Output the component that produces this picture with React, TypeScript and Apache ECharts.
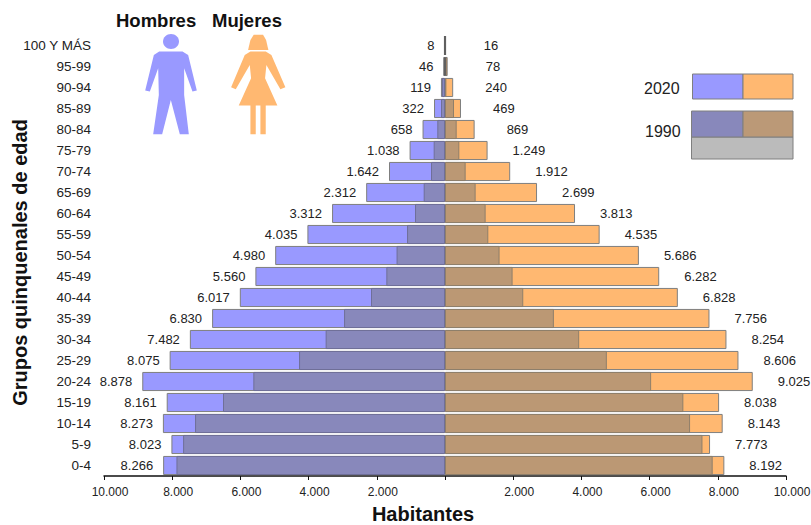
import React, { useEffect, useRef } from "react";
import * as echarts from "echarts";

const categories = ["0-4","5-9","10-14","15-19","20-24","25-29","30-34","35-39","40-44","45-49","50-54","55-59","60-64","65-69","70-74","75-79","80-84","85-89","90-94","95-99","100 Y MÁS"];
const hombres2020 = [8266,8023,8273,8161,8878,8075,7482,6830,6017,5560,4980,4035,3312,2312,1642,1038,658,322,119,46,8];
const mujeres2020 = [8192,7773,8143,8038,9025,8606,8254,7756,6828,6282,5686,4535,3813,2699,1912,1249,869,469,240,78,16];
const hombres1990 = [7875,7680,7330,6510,5620,4280,3500,2960,2170,1720,1420,1113,879,625,410,332,225,117,90,22,4];
const mujeres1990 = [7850,7550,7187,6990,6045,4746,3935,3193,2295,1982,1600,1270,1191,898,605,420,342,264,40,30,6];

const MALE = "#9999FF";
const FEMALE = "#FFB871";
const OVERLAY = "rgba(120,120,120,0.5)";
const BORDER = "#7F7F7F";
const FONT = "'Liberation Sans', Arial, sans-serif";

const fmt = (v: number) => String(Math.abs(v)).replace(/\B(?=(\d{3})+$)/g, ".");

function App() {
  const ref = useRef<HTMLDivElement>(null);
  useEffect(() => {
    const chart = echarts.init(ref.current!, null, { renderer: "svg" });
    const bar = { type: "bar", barGap: "-100%", barCategoryGap: "9%" };
    const rightGap = (v: number) => (v < 100 ? 38 : v < 1000 ? 32 : 25);
    const tiny = (v: number, limit: number) =>
      Math.abs(v) < limit ? { itemStyle: { color: "#606060", borderColor: "#606060", borderWidth: 2 } } : {};
    const scale = 1 / 3;
    chart.setOption({
      animation: false,
      grid: { left: 104, right: 25, top: 35, bottom: 49, outerBoundsMode: "none" },
      xAxis: {
        type: "value",
        min: -10000,
        max: 10000,
        interval: 2000,
        name: "Habitantes",
        nameLocation: "middle",
        nameGap: 28,
        nameTextStyle: { fontFamily: FONT, fontWeight: "bold", fontSize: 20, color: "#111", padding: [0, 44, 0, 0] },
        splitLine: { show: false },
        axisLine: { show: true, onZero: false, lineStyle: { color: "#111", width: 1.5 } },
        axisTick: { show: true, length: 4, lineStyle: { color: "#111" } },
        axisLabel: {
          fontFamily: FONT,
          fontSize: 12,
          color: "#222",
          margin: 10,
          padding: [0, 0, 0, 12],
          formatter: (v: number) => (v === 0 ? "" : fmt(v)),
        },
      },
      yAxis: {
        type: "category",
        data: categories,
        name: "Grupos quinquenales de edad",
        nameLocation: "middle",
        nameGap: 74,
        nameMoveOverlap: false,
        nameTextStyle: { fontFamily: FONT, fontWeight: "bold", fontSize: 20, color: "#111", padding: [0, 14, 0, 0] },
        axisLine: { show: false },
        axisTick: { show: false },
        axisLabel: { fontFamily: FONT, fontSize: 13.5, color: "#222", margin: 13, interval: 0 },
      },
      series: [
        {
          ...bar,
          name: "Hombres 2020",
          data: hombres2020.map((v) => ({ value: -v })),
          itemStyle: { color: MALE, borderColor: BORDER, borderWidth: 1 },
          label: { show: true, position: "left", distance: 10, fontFamily: FONT, fontSize: 13, color: "#222", formatter: (p: any) => fmt(p.value) },
        },
        {
          ...bar,
          name: "Mujeres 2020",
          data: mujeres2020.map((v) => ({ value: v, label: { distance: rightGap(v) } })),
          itemStyle: { color: FEMALE, borderColor: BORDER, borderWidth: 1 },
          label: { show: true, position: "right", fontFamily: FONT, fontSize: 13, color: "#222", formatter: (p: any) => fmt(p.value) },
        },
        {
          ...bar,
          name: "Hombres 1990",
          data: hombres1990.map((v) => ({ value: -v, ...tiny(v, 35) })),
          itemStyle: { color: OVERLAY, borderColor: "#6F6F9A", borderWidth: 1 },
        },
        {
          ...bar,
          name: "Mujeres 1990",
          data: mujeres1990.map((v) => ({ value: v, ...tiny(v, 35) })),
          itemStyle: { color: OVERLAY, borderColor: "#8F7F6A", borderWidth: 1 },
        },
      ],
      graphic: [
        { type: "text", left: 116, top: 11, style: { text: "Hombres", fontFamily: FONT, fontWeight: "bold", fontSize: 18.5, fill: "#111" } },
        { type: "text", left: 212, top: 11, style: { text: "Mujeres", fontFamily: FONT, fontWeight: "bold", fontSize: 18.5, fill: "#111" } },
        { type: "ellipse", shape: { cx: 171, cy: 41.5, rx: 8, ry: 7.5 }, style: { fill: MALE } },
        {
          type: "polygon",
          scaleX: scale,
          scaleY: scale,
          shape: { points: [[478,155],[548,155],[565,165],[591,272],[578,275],[553,205],[553,285],[567,403],[540,403],[513,300],[487,403],[460,403],[477,285],[475,205],[450,275],[436,272],[462,165]] },
          style: { fill: MALE },
        },
        {
          type: "polygon",
          scaleX: scale,
          scaleY: scale,
          shape: { points: [[762,104],[790,104],[799,120],[806,150],[745,150],[752,120]] },
          style: { fill: FEMALE },
        },
        {
          type: "polygon",
          scaleX: scale,
          scaleY: scale,
          shape: { points: [[752,155],[798,155],[815,165],[857,262],[842,268],[800,195],[796,235],[833,317],[798,317],[798,403],[782,403],[782,317],[768,317],[768,403],[752,403],[752,317],[717,317],[754,235],[750,195],[708,268],[694,262],[735,165]] },
          style: { fill: FEMALE },
        },
        { type: "text", left: 644, top: 80, style: { text: "2020", fontFamily: FONT, fontSize: 16, fill: "#222" } },
        { type: "text", left: 645, top: 123, style: { text: "1990", fontFamily: FONT, fontSize: 16, fill: "#222" } },
        { type: "rect", shape: { x: 692.5, y: 74, width: 50.5, height: 25 }, style: { fill: MALE, stroke: BORDER } },
        { type: "rect", shape: { x: 743, y: 74, width: 50, height: 25 }, style: { fill: FEMALE, stroke: BORDER } },
        { type: "rect", shape: { x: 691.5, y: 137, width: 101.5, height: 22 }, style: { fill: "#BBBBBB", stroke: BORDER } },
        { type: "rect", shape: { x: 691.5, y: 111, width: 51.5, height: 26 }, style: { fill: "#8888BB", stroke: BORDER } },
        { type: "rect", shape: { x: 743, y: 111, width: 50, height: 26 }, style: { fill: "#BB9977", stroke: BORDER } },
      ],
    });
    return () => chart.dispose();
  }, []);
  return <div ref={ref} style={{ position: "fixed", left: 0, top: 0, width: 811, height: 525, background: "#fff" }} />;
}

export default App;
